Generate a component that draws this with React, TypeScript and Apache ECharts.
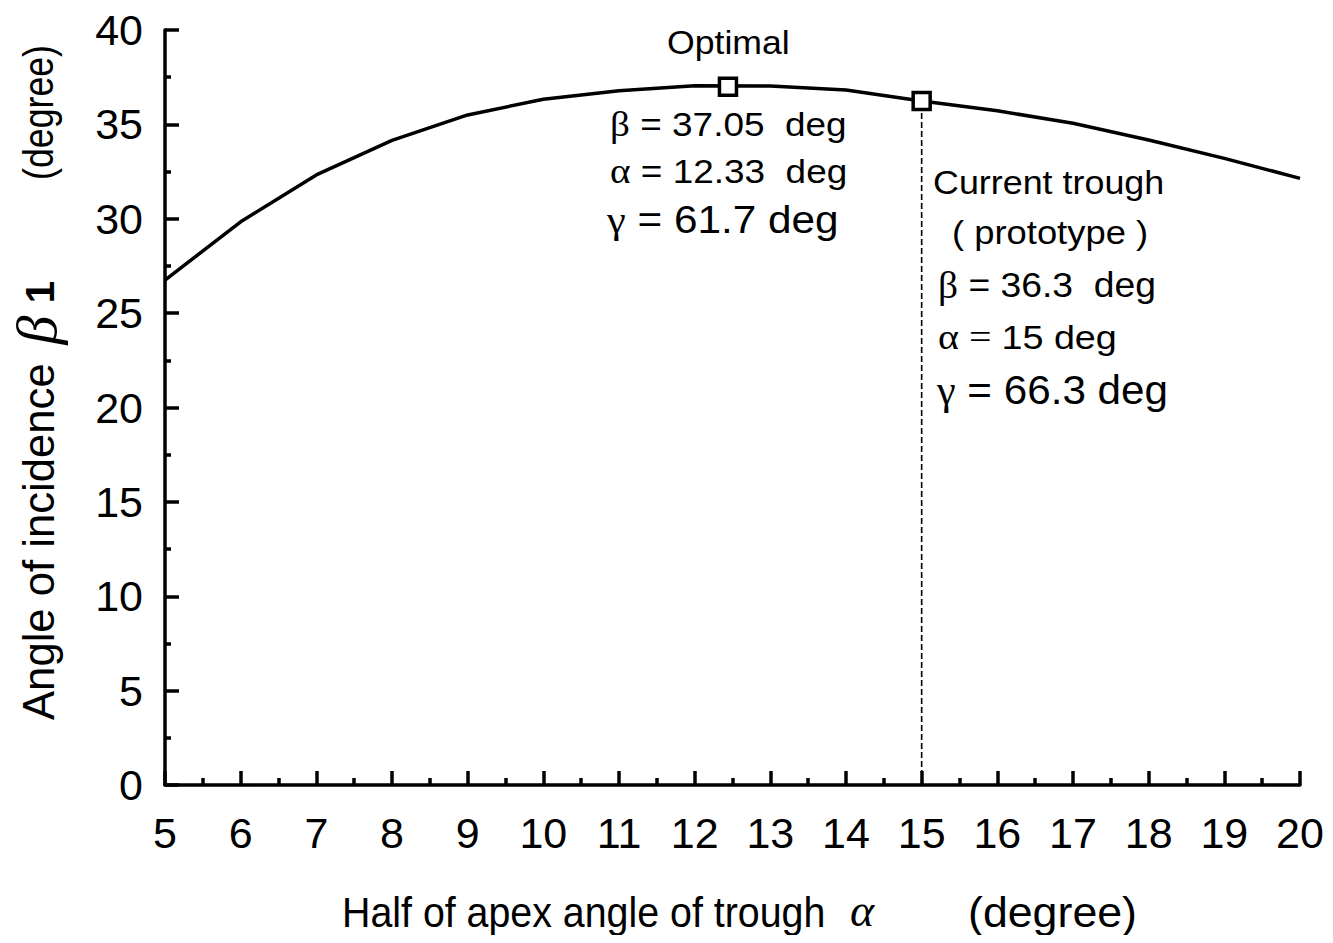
import React, { useEffect, useRef } from "react";
import * as echarts from "echarts";

const alphaValues = [5, 6, 7, 8, 9, 10, 11, 12, 13, 14, 15, 16, 17, 18, 19, 20];
const betaValues = [26.75, 29.84, 32.32, 34.15, 35.5, 36.33, 36.78, 37.05, 37.03, 36.82, 36.24, 35.72, 35.06, 34.17, 33.2, 32.14];
const optimalPoint = [12.44, 37.0];
const currentPoint = [15, 36.24];
const xTicks = { min: 5, max: 20, interval: 1 };
const yTicks = { min: 0, max: 40, interval: 5 };

const SANS = "'Liberation Sans', Arial, sans-serif";
const SERIF = "'Liberation Serif', 'Times New Roman', serif";

export default function App() {
  const ref = useRef<HTMLDivElement>(null);
  useEffect(() => {
    if (!ref.current) return;
    const chart = echarts.init(ref.current, undefined, { renderer: "svg" });
    const axisCommon = {
      axisLine: { show: true, onZero: false, lineStyle: { color: "#000", width: 3.5 } },
      axisTick: { show: true, inside: true, length: 14, lineStyle: { color: "#000", width: 3.5 } },
      splitLine: { show: false },
    };
    const lineData = alphaValues.map((a, i) => [a, betaValues[i]]);
    const t = (x: number, y: number, text: string, size: number, greekSize: number, sx: number) => ({
      type: "text",
      x,
      y,
      z: 10,
      scaleX: sx,
      style: {
        text,
        align: "left",
        verticalAlign: "middle",
        fill: "#000",
        rich: {
          n: { fontFamily: SANS, fontSize: size, fill: "#000" },
          g: { fontFamily: SERIF, fontSize: greekSize, fill: "#000" },
        },
      },
    });
    const plain = (x: number, y: number, text: string, font: string, size: number, align: string, extra: any = {}) => ({
      type: "text",
      x,
      y,
      z: 10,
      rotation: extra.rotation || 0,
      scaleX: extra.scaleX || 1,
      style: {
        text,
        fontFamily: font,
        fontSize: size,
        fontStyle: extra.italic ? "italic" : "normal",
        fontWeight: extra.bold ? "bold" : "normal",
        align,
        verticalAlign: "middle",
        fill: "#000",
      },
    });
    const rot = Math.PI / 2;
    chart.setOption({
      animation: false,
      backgroundColor: "#fff",
      grid: { left: 165, right: 33, top: 30, bottom: 158, containLabel: false },
      xAxis: {
        type: "value",
        min: xTicks.min,
        max: xTicks.max,
        interval: xTicks.interval,
        ...axisCommon,
        minorTick: { show: true, splitNumber: 2, length: 7, lineStyle: { color: "#000", width: 3.5 } },
        axisLabel: { fontFamily: SANS, fontSize: 43, color: "#000", margin: 26 },
      },
      yAxis: {
        type: "value",
        min: yTicks.min,
        max: yTicks.max,
        interval: yTicks.interval,
        ...axisCommon,
        minorTick: { show: true, splitNumber: 2, length: 6, lineStyle: { color: "#000", width: 3.5 } },
        axisLabel: { fontFamily: SANS, fontSize: 43, color: "#000", margin: 22 },
      },
      series: [
        {
          type: "line",
          data: lineData,
          symbol: "none",
          lineStyle: { color: "#000", width: 3.5 },
          z: 2,
        },
        {
          type: "line",
          data: [[currentPoint[0], 0], [currentPoint[0], currentPoint[1]]],
          symbol: "none",
          lineStyle: { color: "#000", width: 1.6, type: [6, 3] },
          z: 1,
        },
        {
          type: "scatter",
          data: [optimalPoint, currentPoint],
          symbol: "rect",
          symbolSize: 17,
          itemStyle: { color: "#fff", borderColor: "#000", borderWidth: 3.5, opacity: 1 },
          z: 5,
        },
      ],
      graphic: [
        t(667, 42, "{n|Optimal}", 33, 33, 1.08),
        t(610, 124, "{g|β}{n| = 37.05  deg}", 33, 35, 1.12),
        t(610, 171, "{g|α}{n| = 12.33  deg}", 33, 35, 1.12),
        t(607, 220, "{g|γ}{n| = 61.7 deg}", 39, 39, 1.085),
        t(933, 182, "{n|Current trough}", 34, 34, 1.055),
        t(952, 232, "{n|( prototype )}", 34, 34, 1.07),
        t(938, 285, "{g|β}{n| = 36.3  deg}", 35, 37, 1.065),
        t(938, 337, "{g|α}{g| = }{n|15 deg}", 34, 36, 1.11),
        t(937, 390, "{g|γ}{n| = 66.3 deg}", 40, 40, 1.055),
        // x-axis title
        plain(342, 912, "Half of apex angle of trough", SANS, 43, "left", { scaleX: 0.915 }),
        plain(862, 910, "α", SERIF, 46, "center", { italic: true }),
        plain(1137, 912, "(degree)", SANS, 43, "right", { scaleX: 1.04 }),
        // y-axis title
        plain(38, 720, "Angle of incidence", SANS, 45, "left", { rotation: rot, scaleX: 0.97 }),
        plain(36, 330, "β", SERIF, 58, "center", { rotation: rot, italic: true }),
        plain(40, 292, "1", SANS, 40, "center", { rotation: rot, bold: true }),
        plain(38, 45, "(degree)", SANS, 42, "right", { rotation: rot, scaleX: 0.85 }),
      ],
    });
    return () => chart.dispose();
  }, []);
  return <div ref={ref} style={{ width: 1333, height: 943, margin: -8 }} />;
}
